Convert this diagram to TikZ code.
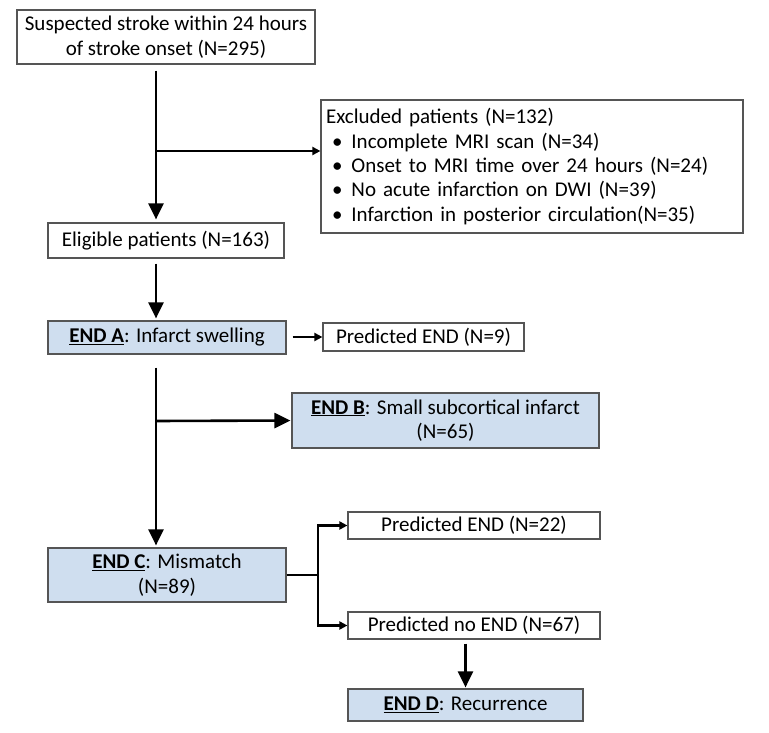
\documentclass[tikz,border=0pt]{standalone}
\usepackage{fontspec}
\setmainfont{Carlito}
\usetikzlibrary{calc,arrows.meta}
\definecolor{endblue}{RGB}{207,222,239}
\definecolor{boxline}{RGB}{85,85,85}
\tikzset{
  plain/.style={draw=boxline, line width=1.2pt, fill=white, align=center, inner sep=0pt},
  endbox/.style={plain, fill=endblue},
  bigarrow/.style={line width=2.6pt, -{Triangle[length=16pt,width=15pt]}},
  smallarrow/.style={line width=2.2pt, -{Triangle[length=8pt,width=8pt]}},
  link/.style={line width=2.6pt}
}

\begin{document}
\begin{tikzpicture}[x=1pt,y=-1pt,font=\fontsize{21pt}{24.5pt}\selectfont]
            \useasboundingbox (0,0) rectangle (769,733);
            % boxes
            \node[plain, minimum width=298pt, minimum height=54pt] (S) at (166,37)
                {Suspected stroke within 24 hours\\of stroke onset (N=295)};
            \node[plain, minimum width=422pt, minimum height=133pt, text width=412pt, align=left,
                  font=\fontsize{21pt}{24.3pt}\selectfont] (X) at (532,166.5)
                {Excluded patients (N=132)\\
                 \hspace*{6pt}\textbullet\hspace{9pt}Incomplete MRI scan (N=34)\\
                 \hspace*{6pt}\textbullet\hspace{9pt}Onset to MRI time over 24 hours (N=24)\\
                 \hspace*{6pt}\textbullet\hspace{9pt}No acute infarction on DWI (N=39)\\
                 \hspace*{6pt}\textbullet\hspace{9pt}Infarction in posterior circulation(N=35)};
            \node[plain, minimum width=236pt, minimum height=35pt] (E) at (166,240.5)
                {Eligible patients (N=163)};
            \node[endbox, minimum width=238pt, minimum height=33pt] (A) at (167,337.5)
                {\underline{\textbf{END A}}: Infarct swelling};
            \node[plain, minimum width=201pt, minimum height=28pt] (PA) at (423.5,337)
                {Predicted END (N=9)};
            \node[endbox, minimum width=307pt, minimum height=55pt] (B) at (445.5,420.5)
                {\underline{\textbf{END B}}: Small subcortical infarct\\(N=65)};
            \node[endbox, minimum width=238pt, minimum height=54pt] (C) at (167,575)
                {\underline{\textbf{END C}}: Mismatch\\(N=89)};
            \node[plain, minimum width=252pt, minimum height=27pt] (PC) at (474,525.5)
                {Predicted END (N=22)};
            \node[plain, minimum width=252pt, minimum height=27pt] (NC) at (474,625.5)
                {Predicted no END (N=67)};
            \node[endbox, minimum width=235pt, minimum height=32pt] (D) at (465.5,705)
                {\underline{\textbf{END D}}: Recurrence};
            % connectors
            \coordinate (j1) at (156,151);
            \coordinate (j2) at (156,421);
            \coordinate (j3) at (318,575);
            \draw[bigarrow, shorten <=6pt, shorten >=3pt] (S.south -| j1) -- (E.north -| j1);
            \draw[smallarrow] (j1) -- (j1 -| X.west);
            \draw[bigarrow, shorten <=5pt, shorten >=2pt] (E.south -| j1) -- (A.north -| j1);
            \draw[smallarrow, shorten <=6pt] (A.east |- PA) -- (PA.west);
            \draw[bigarrow, shorten <=13pt, shorten >=2pt] (A.south -| j2) -- (C.north -| j2);
            \draw[bigarrow, shorten >=1pt] (j2) -- (B.west);
            \draw[link] (C.east) -- (j3);
            \draw[smallarrow] (j3) |- (PC.west);
            \draw[smallarrow] (j3) |- (NC.west);
            \draw[bigarrow, shorten <=4pt, shorten >=1pt] (NC.south -| D) -- (D.north);
            %\draw[link] (j1) -- (j2);
\end{tikzpicture}
\end{document}
